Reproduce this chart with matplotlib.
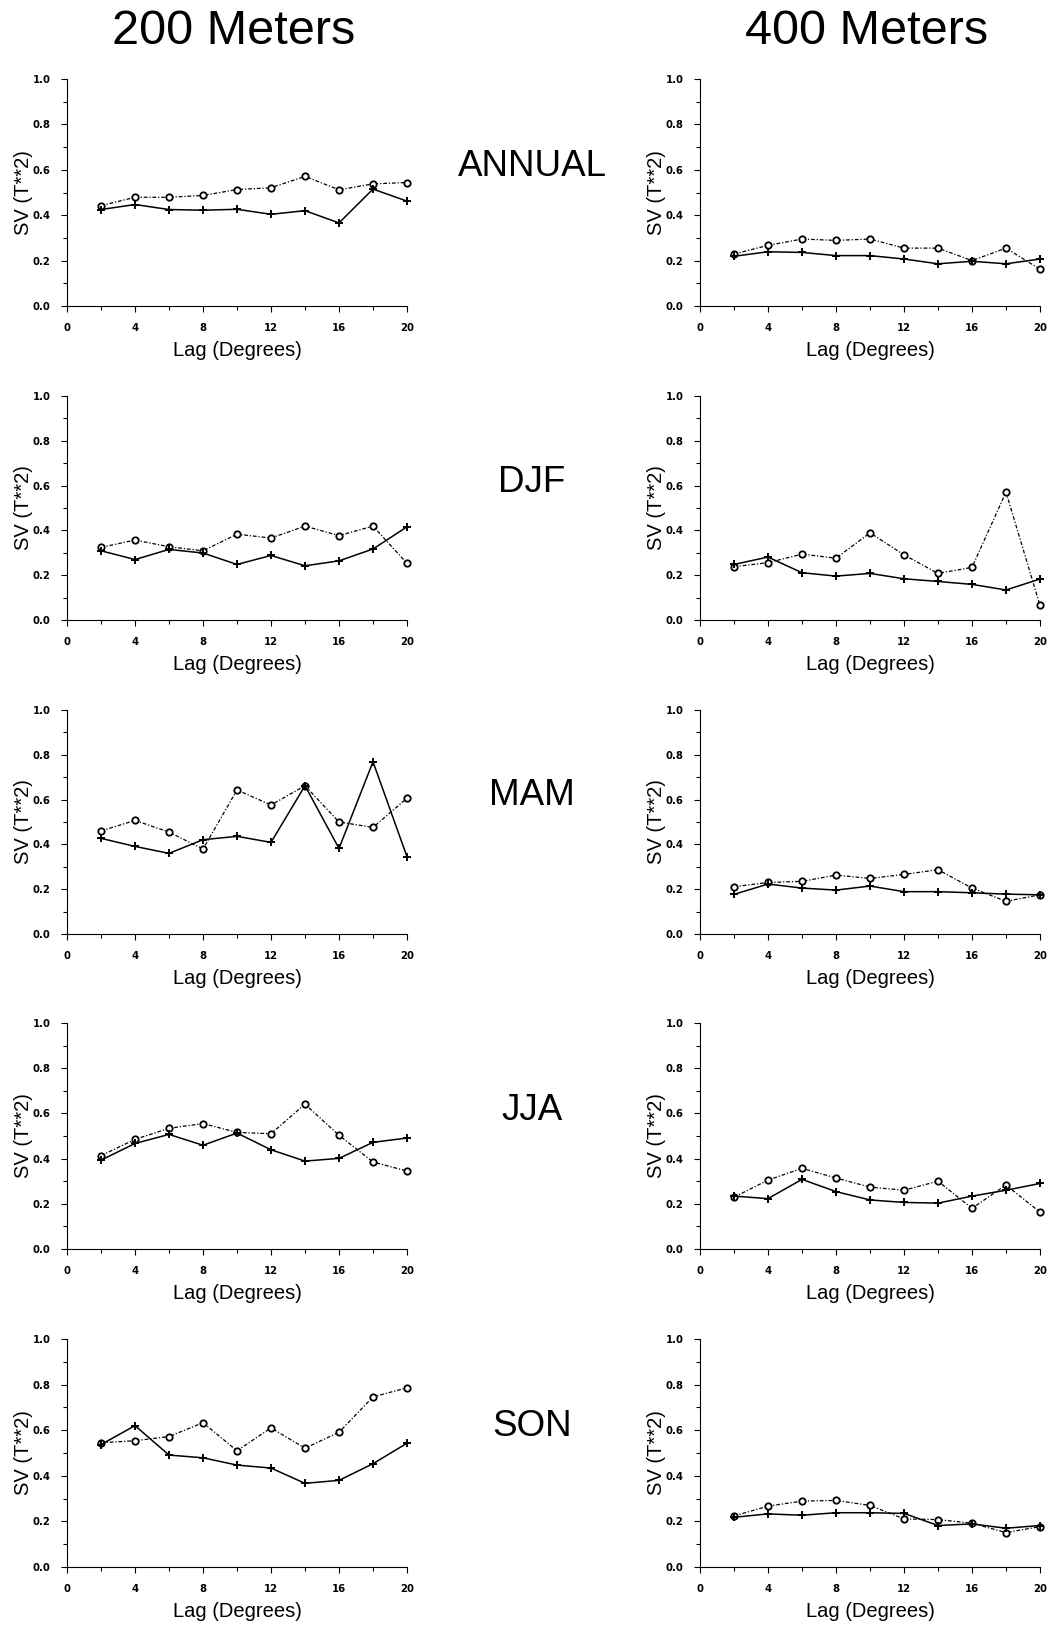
import matplotlib
matplotlib.use('Agg')
import matplotlib.pyplot as plt
import numpy as np

# semivariogram of temperature, 200 m and 400 m, annual and seasonal
lags = [2, 4, 6, 8, 10, 12, 14, 16, 18, 20]
seasons = ['ANNUAL', 'DJF', 'MAM', 'JJA', 'SON']
depths = ['200 Meters', '400 Meters']

# '+' series (solid line)
plus_200 = [
    [0.425, 0.447, 0.425, 0.422, 0.426, 0.404, 0.420, 0.366, 0.515, 0.462],
    [0.309, 0.270, 0.315, 0.299, 0.248, 0.288, 0.242, 0.264, 0.317, 0.416],
    [0.427, 0.391, 0.360, 0.421, 0.436, 0.409, 0.662, 0.382, 0.769, 0.345],
    [0.393, 0.467, 0.507, 0.459, 0.513, 0.439, 0.389, 0.401, 0.472, 0.491],
    [0.537, 0.620, 0.491, 0.479, 0.447, 0.434, 0.367, 0.380, 0.453, 0.543],
]
plus_400 = [
    [0.219, 0.239, 0.236, 0.222, 0.222, 0.207, 0.186, 0.197, 0.186, 0.207],
    [0.248, 0.281, 0.211, 0.196, 0.208, 0.184, 0.172, 0.159, 0.134, 0.183],
    [0.177, 0.223, 0.205, 0.196, 0.214, 0.189, 0.189, 0.184, 0.178, 0.175],
    [0.234, 0.223, 0.308, 0.254, 0.217, 0.206, 0.203, 0.234, 0.260, 0.290],
    [0.218, 0.233, 0.227, 0.238, 0.238, 0.235, 0.182, 0.189, 0.170, 0.182],
]
# 'o' series (dotted line)
circ_200 = [
    [0.442, 0.479, 0.479, 0.487, 0.513, 0.521, 0.571, 0.512, 0.538, 0.544],
    [0.324, 0.357, 0.327, 0.309, 0.383, 0.366, 0.419, 0.377, 0.419, 0.253],
    [0.460, 0.507, 0.455, 0.379, 0.643, 0.576, 0.662, 0.500, 0.476, 0.606],
    [0.413, 0.485, 0.534, 0.555, 0.516, 0.510, 0.641, 0.503, 0.385, 0.345],
    [0.545, 0.554, 0.572, 0.633, 0.510, 0.610, 0.521, 0.591, 0.746, 0.786],
]
circ_400 = [
    [0.229, 0.267, 0.295, 0.289, 0.295, 0.255, 0.255, 0.200, 0.255, 0.162],
    [0.238, 0.256, 0.294, 0.276, 0.389, 0.291, 0.208, 0.235, 0.571, 0.065],
    [0.211, 0.230, 0.235, 0.263, 0.248, 0.266, 0.287, 0.205, 0.146, 0.175],
    [0.229, 0.305, 0.357, 0.314, 0.274, 0.260, 0.300, 0.180, 0.283, 0.163],
    [0.224, 0.267, 0.289, 0.292, 0.270, 0.211, 0.208, 0.192, 0.151, 0.177],
]

W, H = 1053, 1627
fig = plt.figure(figsize=(W/100, H/100), dpi=100)

col_left = [67, 700]      # px
ax_w = 340
row_top = [79, 396, 710, 1023, 1339]
row_bot = [306, 620, 934, 1249, 1567]

def style_axes(ax):
    ax.set_xlim(0, 20)
    ax.set_ylim(0, 1.0)
    ax.spines['top'].set_visible(False)
    ax.spines['right'].set_visible(False)
    ax.set_xticks(np.arange(0, 21, 4))
    ax.set_xticks(np.arange(0, 21, 2), minor=True)
    ax.set_yticks(np.arange(0, 1.01, 0.2))
    ax.set_yticks(np.arange(0, 1.01, 0.1), minor=True)
    ax.set_yticklabels(['%.1f' % v for v in np.arange(0, 1.01, 0.2)])
    ax.tick_params(which='major', length=4, width=0.8, labelsize=7.3, pad=8)
    ax.tick_params(which='minor', length=3, width=0.8)
    for lab in ax.get_xticklabels() + ax.get_yticklabels():
        lab.set_fontweight('bold')
        lab.set_family('DejaVu Sans')
    ax.set_xlabel('Lag (Degrees)', fontsize=14.5, family='Liberation Sans')
    ax.set_ylabel('SV (T**2)', fontsize=14.5, family='Liberation Sans')
    ax.xaxis.set_label_coords(0.5, -0.155)
    ax.yaxis.set_label_coords(-0.10, 0.5)

data = [(plus_200, circ_200), (plus_400, circ_400)]
for c in range(2):
    for r in range(5):
        left = col_left[c] / W
        bottom = 1 - row_bot[r] / H
        height = (row_bot[r] - row_top[r]) / H
        ax = fig.add_axes([left, bottom, ax_w / W, height])
        p, o = data[c]
        ax.plot(lags, o[r], color='black', lw=0.9, linestyle=(0, (3, 1.5, 1, 1.5)),
                marker='o', ms=4.6, mfc='white', mec='black', mew=1.3, clip_on=False)
        ax.plot(lags, p[r], color='black', lw=1.1, linestyle='-',
                marker='+', ms=6, mew=1.4, clip_on=False)
        style_axes(ax)

for c in range(2):
    fig.text((col_left[c] + ax_w/2) / W - 0.003, 1 - 31/H, depths[c], fontsize=35,
             family='Liberation Sans', ha='center', va='center')

for r in range(5):
    yc = (row_top[r] + row_bot[r]) / 2 - 26
    fig.text(532/W, 1 - yc/H, seasons[r], fontsize=26.5, family='Liberation Sans',
             ha='center', va='center')

fig.savefig('out.png', dpi=100, facecolor='white')
